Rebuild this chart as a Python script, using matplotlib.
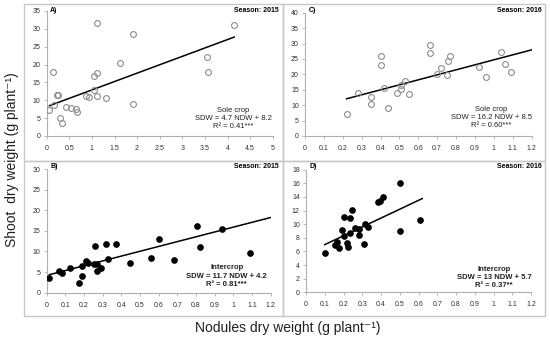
import matplotlib.pyplot as plt
import numpy as np
from matplotlib.patches import Rectangle

W, H = 550, 337

# panel A: sole crop 2015
a_x = [0.06, 0.15, 0.17, 0.22, 0.24, 0.29, 0.34, 0.42, 0.53, 0.64, 0.66, 0.87, 0.93,
       1.05, 1.05, 1.11, 1.12, 1.11, 1.31, 1.62, 1.90, 1.91, 3.55, 3.56, 4.15]
a_y = [7.3, 18.0, 8.8, 11.6, 11.6, 5.0, 3.6, 8.1, 7.7, 7.6, 6.7, 11.3, 10.8,
       16.8, 12.9, 31.7, 17.6, 11.3, 10.6, 20.4, 28.6, 9.0, 22.2, 18.0, 31.2]

# panel B: intercrop 2015
b_x = [0.014, 0.068, 0.082, 0.127, 0.175, 0.19, 0.19, 0.21, 0.22, 0.255, 0.26, 0.27,
       0.27, 0.29, 0.32, 0.33, 0.37, 0.445, 0.56, 0.60, 0.68, 0.805, 0.82, 0.94, 1.09]
b_y = [3.5, 5.2, 4.8, 6.1, 2.4, 4.0, 6.5, 7.7, 7.3, 7.0, 11.3, 5.3,
       6.9, 6.1, 11.9, 8.2, 11.9, 7.3, 8.5, 13.1, 8.0, 16.1, 11.1, 15.4, 9.7]

# panel C: sole crop 2016
c_x = [0.22, 0.28, 0.35, 0.35, 0.40, 0.40, 0.42, 0.44, 0.49, 0.51, 0.51, 0.53, 0.55,
       0.66, 0.66, 0.70, 0.72, 0.75, 0.76, 0.77, 0.92, 0.96, 1.04, 1.06, 1.09]
c_y = [7.0, 14.1, 12.6, 10.4, 25.9, 23.0, 15.5, 9.2, 14.1, 15.1, 16.6, 17.7, 13.7,
       29.6, 27.0, 20.1, 22.1, 19.9, 24.2, 26.1, 22.4, 19.2, 27.2, 23.5, 20.9]

# panel D: intercrop 2016
d_x = [0.10, 0.154, 0.167, 0.174, 0.191, 0.20, 0.204, 0.216, 0.225, 0.235, 0.237, 0.244,
       0.263, 0.282, 0.284, 0.311, 0.316, 0.332, 0.382, 0.395, 0.412, 0.502, 0.502, 0.609]
d_y = [5.7, 6.9, 7.4, 6.5, 9.1, 8.3, 11.05, 7.25, 6.7, 10.9, 8.65, 12.1,
       9.5, 9.25, 8.35, 7.15, 10.1, 9.6, 13.2, 13.35, 14.0, 16.05, 8.95, 10.57]

# fitted lines: slope, intercept, x range
fits = {
    'A': (4.7, 8.2, 0.06, 4.15),
    'B': (11.7, 4.2, 0.014, 1.2),
    'C': (16.2, 8.5, 0.22, 1.2),
    'D': (13.0, 5.7, 0.10, 0.62),
}

notes = {
    'A': 'Sole crop\nSDW = 4.7 NDW + 8.2\nR² = 0.41***',
    'B': 'Intercrop\nSDW = 11.7 NDW + 4.2\nR² = 0.81***',
    'C': 'Sole crop\nSDW = 16.2 NDW + 8.5\nR² = 0.60***',
    'D': 'Intercrop\nSDW = 13 NDW + 5.7\nR² = 0.37**',
}

plt.rcParams['font.family'] = ['Liberation Sans', 'DejaVu Sans']

fig = plt.figure(figsize=(W / 100, H / 100), dpi=100)


def fx(px):
    return px / W


def fy(py):
    return 1 - py / H


# panel frames (pixels: left, top, right, bottom)
for l, t, r, b in [(24, 4, 283, 161), (283, 4, 545, 161),
                   (24, 161, 283, 316), (283, 161, 545, 316)]:
    fig.patches.append(Rectangle((fx(l), fy(b)), fx(r - l), (b - t) / H,
                                 transform=fig.transFigure, fill=False,
                                 edgecolor='#c8c8c8', linewidth=1.0))

panels = [
    # key, x, y, filled, px box (x0, x1, y0px, ytop px), xlim, xstep, ylim, ystep, season, note pos, season pos
    ('A', a_x, a_y, False, (46.7, 272.7, 136, 11), 5, 0.5, 35, 5, '2015', (233, 118.5), (279, 11)),
    ('C', c_x, c_y, False, (305, 531.5, 136, 12.7), 1.2, 0.1, 40, 5, '2016', (491.5, 117.3), (541.5, 11)),
    ('B', b_x, b_y, True, (46.7, 270.7, 292.7, 169), 1.2, 0.1, 30, 5, '2015', (226.7, 276), (279, 166)),
    ('D', d_x, d_y, True, (306, 531, 292.3, 169.7), 1.2, 0.1, 18, 2, '2016', (494, 277.7), (541.5, 166)),
]

for key, xs, ys, filled, box, xmax, xstep, ymax, ystep, season, npos, spos in panels:
    x0, x1, y0, yt = box
    ax = fig.add_axes([fx(x0), fy(y0), fx(x1 - x0), (y0 - yt) / H])
    ax.set_xlim(0, xmax)
    ax.set_ylim(0, ymax)
    if filled:
        ax.plot(xs, ys, 'o', color='black', markersize=3.8, zorder=3)
    else:
        ax.plot(xs, ys, 'o', markerfacecolor='none', markeredgecolor='#8c8c8c',
                markeredgewidth=0.8, markersize=4.2, zorder=3)
    slope, icpt, lo, hi = fits[key]
    lx = np.array([lo, hi])
    ax.plot(lx, slope * lx + icpt, color='black', linewidth=1.1, zorder=2)

    xt = np.round(np.arange(0, xmax + xstep / 2, xstep), 2)
    ax.set_xticks(xt)
    ax.set_xticklabels([('%g' % v) for v in xt])
    ax.set_yticks(np.arange(0, ymax + 0.1, ystep))
    for s in ['top', 'right']:
        ax.spines[s].set_visible(False)
    for s in ['left', 'bottom']:
        ax.spines[s].set_color('#b0b0b0')
        ax.spines[s].set_linewidth(0.8)
    ax.tick_params(axis='both', labelsize=5, colors='#b0b0b0', labelcolor='#303030',
                   length=2.5, width=0.6, pad=2)
    ax.tick_params(axis='x', pad=4)
    ax.patch.set_alpha(0)

    fig.text(fx(x0 + 3.5), fy(spos[1]), key + ')', fontsize=5, fontweight='bold',
             ha='left', va='center')
    fig.text(fx(spos[0]), fy(spos[1]), 'Season: ' + season, fontsize=5,
             fontweight='bold', ha='right', va='center')
    fig.text(fx(npos[0]), fy(npos[1]), notes[key], fontsize=5.5, ha='center',
             va='center', linespacing=1.25, color='#202020',
             fontweight='bold' if filled else 'normal')

fig.text(fx(12), fy(160), 'Shoot  dry weight (g plant⁻¹)', rotation=90,
         fontsize=10, ha='center', va='center', color='#202020')
fig.text(fx(288), fy(328), 'Nodules dry weight (g plant⁻¹)',
         fontsize=10, ha='center', va='center', color='#202020')

fig.savefig('out.png', dpi=100)
